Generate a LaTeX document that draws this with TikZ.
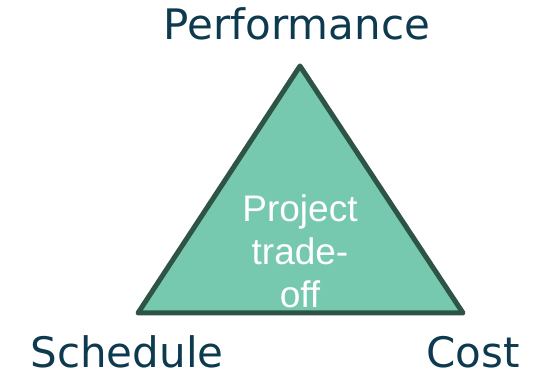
\documentclass[tikz,border=0pt]{standalone}
\usepackage{fontspec}
\setmainfont{DejaVu Sans}
\newfontfamily\innerfont{Liberation Sans}
\definecolor{tealfill}{HTML}{76C8AE}
\definecolor{darkedge}{HTML}{2E5446}
\definecolor{labelblue}{HTML}{0E3A4F}
\tikzset{
  corner/.style={text=labelblue,font=\fontsize{42}{50}\selectfont,anchor=base,inner sep=0pt},
}
\begin{document}
\begin{tikzpicture}[x=1pt,y=-1pt]
\useasboundingbox (0,0) rectangle (547,379);

\coordinate (top) at (300,66);
\coordinate (left) at (138,313);
\coordinate (right) at (463,313);
\filldraw[fill=tealfill,draw=darkedge,line width=5pt,line join=round] (top) -- (left) -- (right) -- cycle;

\node[text=white,align=center,inner sep=0pt,font=\innerfont\fontsize{37}{43}\selectfont] (tradeoff) at (300,251) {Project\\trade-\\off};

\node[corner] (perf) at (297,40) {Performance};
\node[corner] (sched) at (127,368) {Schedule};
\node[corner] (cost) at (473,368) {Cost};

\end{tikzpicture}
\end{document}
